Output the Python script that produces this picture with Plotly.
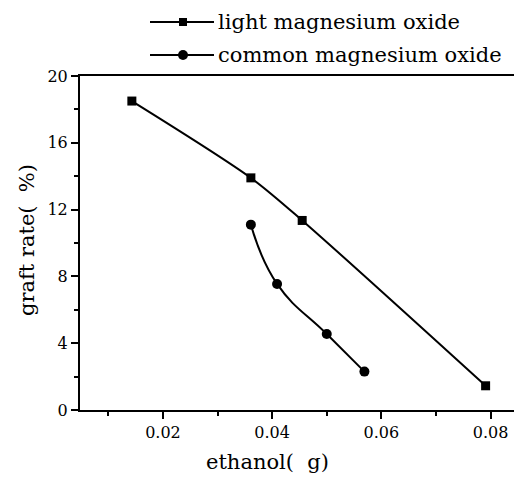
import plotly.graph_objects as go

# Data
light_x = [0.0143, 0.0361, 0.0455, 0.0791]
light_y = [18.5, 13.9, 11.35, 1.45]
common_x = [0.0361, 0.0409, 0.0500, 0.0569]
common_y = [11.1, 7.55, 4.55, 2.3]

series_names = ["light magnesium oxide", "common magnesium oxide"]
x_title = "ethanol(\u00a0\u00a0g)"
y_title = "graft rate(\u00a0\u00a0%)"
x_ticks = [0.02, 0.04, 0.06, 0.08]
x_ticklabels = ["0.02", "0.04", "0.06", "0.08"]
y_ticks = [0, 4, 8, 12, 16, 20]

FONT = "DejaVu Serif"
W, H = 514, 478
L, R, T, B = 80, 0, 76, 68
pw = W - L - R
ph = H - T - B

def px(xp):
    return (xp - L) / pw

def py(yp):
    return (H - B - yp) / ph

fig = go.Figure()
fig.add_trace(go.Scatter(
    x=light_x, y=light_y, mode="lines+markers", name=series_names[0],
    line=dict(color="black", width=2, shape="spline", smoothing=0.8),
    marker=dict(symbol="square", size=9, color="black"),
    showlegend=False,
))
fig.add_trace(go.Scatter(
    x=common_x, y=common_y, mode="lines+markers", name=series_names[1],
    line=dict(color="black", width=2, shape="spline", smoothing=1.3),
    marker=dict(symbol="circle", size=10, color="black"),
    showlegend=False,
))

# Custom legend (long line segments like the original)
legend_rows = [(22, "square"), (55, "circle")]
shapes = []
annotations = []
for (yrow, sym), name in zip(legend_rows, series_names):
    shapes.append(dict(type="line", xref="paper", yref="paper",
                       x0=px(150), x1=px(214), y0=py(yrow), y1=py(yrow),
                       line=dict(color="black", width=2)))
    if sym == "square":
        shapes.append(dict(type="rect", xref="paper", yref="paper",
                           xsizemode="pixel", ysizemode="pixel",
                           xanchor=px(183), yanchor=py(yrow),
                           x0=-4, x1=4, y0=-4, y1=4,
                           fillcolor="black", line=dict(width=0)))
    else:
        shapes.append(dict(type="circle", xref="paper", yref="paper",
                           xsizemode="pixel", ysizemode="pixel",
                           xanchor=px(183), yanchor=py(yrow),
                           x0=-5, x1=5, y0=-5, y1=5,
                           fillcolor="black", line=dict(width=0)))
    annotations.append(dict(text=name, xref="paper", yref="paper",
                            x=px(216), y=py(yrow), xanchor="left", yanchor="middle",
                            showarrow=False, font=dict(family=FONT, size=21, color="black")))

annotations.append(dict(text=x_title, xref="paper", yref="paper",
                        x=px(267), y=py(462), xanchor="center", yanchor="middle",
                        showarrow=False, font=dict(family=FONT, size=21, color="black")))
annotations.append(dict(text=y_title, xref="paper", yref="paper",
                        x=px(27), y=py(240), xanchor="center", yanchor="middle",
                        textangle=-90,
                        showarrow=False, font=dict(family=FONT, size=21, color="black")))

fig.update_layout(
    width=W, height=H,
    margin=dict(l=L, r=R, t=T, b=B, pad=0),
    paper_bgcolor="white", plot_bgcolor="white",
    font=dict(family=FONT, size=16, color="black"),
    shapes=shapes, annotations=annotations,
    showlegend=False,
)
fig.update_xaxes(
    range=[0.0048, 0.0843], showgrid=False, zeroline=False,
    showline=True, linecolor="black", linewidth=2, mirror=True,
    ticks="outside", ticklen=7, tickwidth=2, tickcolor="black",
    tickvals=x_ticks, ticktext=x_ticklabels,
    minor=dict(tickvals=[0.01, 0.03, 0.05, 0.07], ticks="outside", ticklen=4,
               tickwidth=2, tickcolor="black"),
    tickfont=dict(family=FONT, size=16, color="black"),
)
fig.update_yaxes(
    range=[0, 20], showgrid=False, zeroline=False,
    showline=True, linecolor="black", linewidth=2,
    ticks="outside", ticklen=7, tickwidth=2, tickcolor="black",
    tickvals=y_ticks,
    minor=dict(tickvals=[2, 6, 10, 14, 18], ticks="outside", ticklen=4,
               tickwidth=2, tickcolor="black"),
    tickfont=dict(family=FONT, size=16, color="black"),
)

fig.write_html("out.html")
